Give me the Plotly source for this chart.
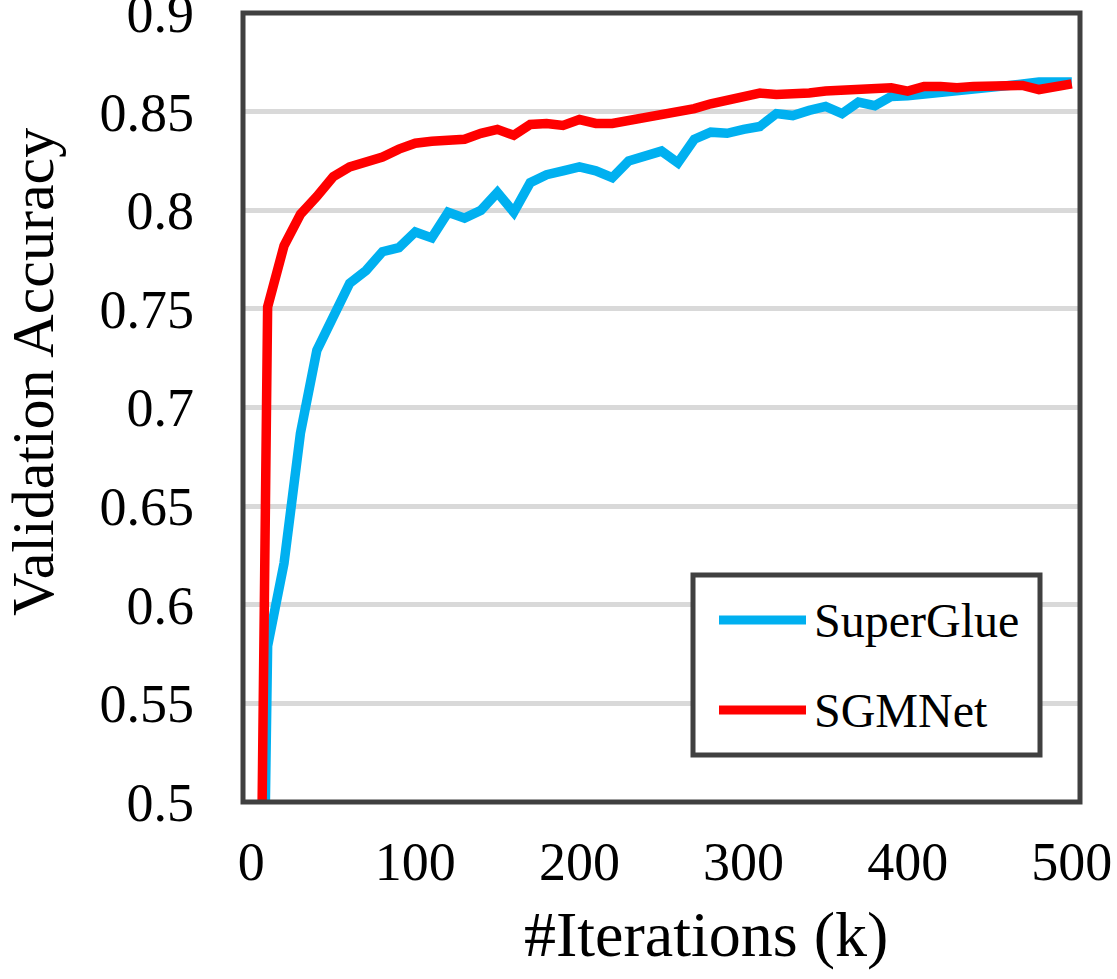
import plotly.graph_objects as go

iterations = list(range(0, 501, 10))

superglue = [0.0, 0.579, 0.621, 0.687, 0.729, 0.746, 0.763, 0.7695, 0.779, 0.781,
             0.789, 0.786, 0.799, 0.796, 0.800, 0.809, 0.799, 0.814, 0.818, 0.820,
             0.822, 0.820, 0.8165, 0.825, 0.828, 0.830, 0.824, 0.836, 0.8396, 0.839,
             0.841, 0.8425, 0.849, 0.848, 0.8506, 0.8526, 0.849, 0.8548, 0.853, 0.8577,
             0.858, 0.8587, 0.860, 0.861, 0.861, 0.8616, 0.8628, 0.864, 0.865, 0.865,
             0.865]

sgmnet = [0.0, 0.751, 0.782, 0.798, 0.807, 0.817, 0.822, 0.824, 0.827, 0.831,
          0.834, 0.835, 0.836, 0.836, 0.839, 0.841, 0.838, 0.8435, 0.844, 0.843,
          0.846, 0.844, 0.844, 0.8455, 0.847, 0.8486, 0.849, 0.8515, 0.854, 0.8557,
          0.857, 0.8594, 0.8587, 0.8585, 0.8594, 0.8604, 0.8607, 0.8604, 0.8616, 0.8621,
          0.8604, 0.8628, 0.8628, 0.8621, 0.8628, 0.8628, 0.8638, 0.8633, 0.8612, 0.8629,
          0.8641]

series_names = ["SuperGlue", "SGMNet"]
series_colors = ["#00B0F0", "#FF0000"]

x_ticks = [0, 100, 200, 300, 400, 500]
y_ticks = [0.5, 0.55, 0.6, 0.65, 0.7, 0.75, 0.8, 0.85, 0.9]
y_tick_text = ["0.5", "0.55", "0.6", "0.65", "0.7", "0.75", "0.8", "0.85", "0.9"]

FONT = "Liberation Serif, Times New Roman, serif"

# plot area in pixels
L, R, T, B = 243, 1080, 13, 802
W, H = 1117, 979


def px(xp):
    return (xp - L) / (R - L)


def py(yp):
    return (B - yp) / (B - T)


fig = go.Figure()
for name, vals, col in zip(series_names, [superglue, sgmnet], series_colors):
    fig.add_trace(go.Scatter(x=iterations, y=vals, mode="lines", name=name,
                             line=dict(color=col, width=9.5), showlegend=False))

# manual legend (box, sample lines, labels)
shapes = [dict(type="rect", xref="paper", yref="paper", x0=0, y0=0, x1=1, y1=1,
               line=dict(color="#404040", width=5), layer="above"),
          dict(type="rect", xref="paper", yref="paper",
               x0=px(693), x1=px(1040), y0=py(755), y1=py(575),
               line=dict(color="#404040", width=5), fillcolor="white", layer="above")]
annotations = []
legend_rows = [620, 710]
for name, col, yy in zip(series_names, series_colors, legend_rows):
    shapes.append(dict(type="line", xref="paper", yref="paper",
                       x0=px(719), x1=px(806), y0=py(yy), y1=py(yy),
                       line=dict(color=col, width=9), layer="above"))
    annotations.append(dict(text=name, xref="paper", yref="paper", x=px(812), y=py(yy),
                            xanchor="left", yanchor="middle", showarrow=False,
                            font=dict(family=FONT, size=48, color="black")))

annotations += [
    dict(text="#Iterations (k)", xref="paper", yref="paper", x=px(706), y=py(934),
         xanchor="center", yanchor="middle", showarrow=False,
         font=dict(family=FONT, size=64, color="black")),
    dict(text="Validation Accuracy", xref="paper", yref="paper", x=px(33), y=py(372),
         xanchor="center", yanchor="middle", showarrow=False, textangle=-90,
         font=dict(family=FONT, size=60, color="black")),
]

fig.update_layout(
    width=W, height=H,
    margin=dict(l=L, r=W - R, t=T, b=H - B, autoexpand=False),
    paper_bgcolor="white", plot_bgcolor="white",
    font=dict(family=FONT, color="black", size=54),
    showlegend=False,
    xaxis=dict(range=[-5, 505], tickvals=x_ticks, ticktext=[str(v) for v in x_ticks],
               showgrid=False, zeroline=False, showline=False, automargin=False,
               ticks="", ticklabelstandoff=23, ticklabeloverflow="allow",
               tickfont=dict(family=FONT, size=54, color="black")),
    yaxis=dict(range=[0.5, 0.9], tickvals=y_ticks, ticktext=y_tick_text,
               showgrid=True, gridcolor="#D9D9D9", gridwidth=5,
               zeroline=False, showline=False, automargin=False,
               ticks="", ticklabelstandoff=48, ticklabeloverflow="allow",
               tickfont=dict(family=FONT, size=54, color="black")),
    shapes=shapes,
    annotations=annotations,
)

fig.write_html("out.html", config={"displayModeBar": False},
               post_script="document.body.style.margin='0px';document.body.style.padding='0px';")
